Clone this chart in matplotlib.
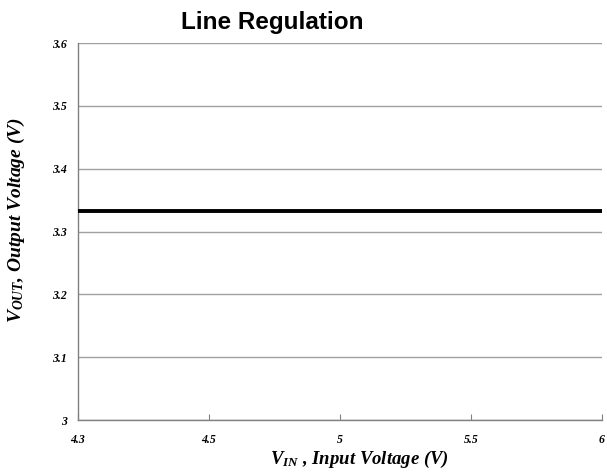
import matplotlib
matplotlib.use("Agg")
import matplotlib.pyplot as plt
import numpy as np

# Data
vin_labels = ["4.3", "4.5", "5", "5.5", "6"]
vout = [3.333, 3.333, 3.333, 3.333, 3.333]
y_ticks = [3.0, 3.1, 3.2, 3.3, 3.4, 3.5, 3.6]
y_tick_labels = ["3", "3.1", "3.2", "3.3", "3.4", "3.5", "3.6"]

plt.rcParams["mathtext.fontset"] = "custom"
plt.rcParams["mathtext.rm"] = "Liberation Serif:bold:italic"
plt.rcParams["mathtext.it"] = "Liberation Serif:bold:italic"
plt.rcParams["mathtext.bf"] = "Liberation Serif:bold:italic"

W, H = 607, 474
fig = plt.figure(figsize=(W / 100, H / 100), dpi=100)
ax = fig.add_axes([78 / W, 1 - 420 / H, (602 - 78) / W, (420 - 43) / H])

x = np.arange(len(vin_labels))
ax.plot(x, vout, color="black", lw=2.8, solid_capstyle="butt", zorder=3)

ax.set_xlim(0, len(vin_labels) - 1)
ax.set_ylim(3.0, 3.6)
ax.set_yticks(y_ticks)
ax.set_xticks(x)
tick_font = dict(family="Liberation Serif", weight="bold", style="italic", size=8.5)
ax.set_yticklabels(y_tick_labels, **tick_font)
ax.set_xticklabels(vin_labels, **tick_font)
ax.yaxis.grid(True, color="#a0a0a0", lw=1.0)
ax.set_axisbelow(True)

for side in ("top", "right"):
    ax.spines[side].set_visible(False)
for side in ("left", "bottom"):
    ax.spines[side].set_color("#808080")
    ax.spines[side].set_linewidth(1.0)

ax.tick_params(axis="x", direction="in", length=4, color="#808080", pad=10)
ax.tick_params(axis="y", length=0, pad=8)

fig.text(272 / W, 1 - 23 / H, "Line Regulation", ha="center", va="center",
         family="Liberation Sans", weight="bold", size=17.5)
fig.text(359 / W, 1 - 459 / H, r"$V_{IN}$ , Input Voltage (V)", ha="center", va="center",
         family="Liberation Serif", weight="bold", style="italic", size=13.5)
fig.text(16 / W, 1 - 220 / H, r"$V_{OUT}$, Output Voltage (V)", ha="center", va="center",
         rotation=90, family="Liberation Serif", weight="bold", style="italic", size=14)

fig.savefig("out.png", dpi=100)
